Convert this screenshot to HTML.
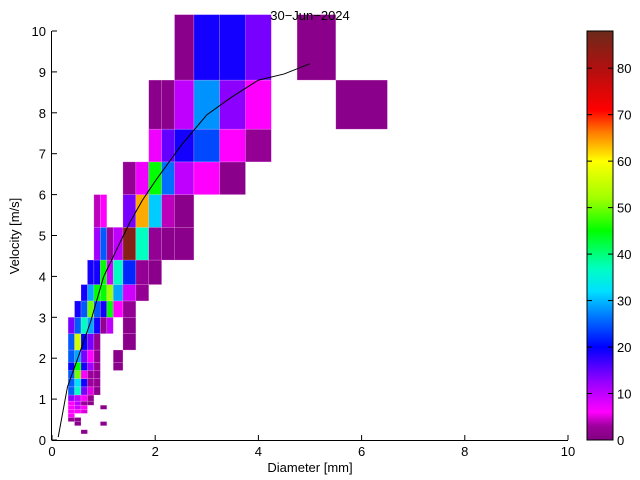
<!DOCTYPE html>
<html><head><meta charset="utf-8">
<style>
body{margin:0;background:#fff;}
svg{display:block;font-family:"Liberation Sans",sans-serif;}
</style></head>
<body>
<svg id="chart" width="640" height="480" viewBox="0 0 640 480">
  <rect width="640" height="480" fill="#fff"/>
  <g id="cells"></g>
  <polyline id="fitline" fill="none" stroke="#000" stroke-width="1"/>
  <g id="axes"></g>
  <text x="310" y="20" font-size="13" text-anchor="middle">30−Jun−2024</text>
  <text x="310" y="472" font-size="13" text-anchor="middle">Diameter [mm]</text>
  <text x="19" y="236" font-size="13" text-anchor="middle" transform="rotate(-90 19 236)">Velocity [m/s]</text>
  <defs><linearGradient id="cbgrad" x1="0" y1="1" x2="0" y2="0"></linearGradient></defs>
  <rect x="587" y="31" width="26" height="409" fill="url(#cbgrad)" stroke="#000" stroke-width="1"/>
  <g id="cbticks"></g>
</svg>
<script>
// bin edges (class centers, pcolor style)
const dEdges = [0.062,0.187,0.312,0.437,0.562,0.687,0.812,0.937,1.062,1.187,1.375,1.625,1.875,2.125,2.375,2.75,3.25,3.75,4.25,4.75,5.5,6.5];
const vEdges = [0.05,0.15,0.25,0.35,0.45,0.55,0.65,0.75,0.85,0.95,1.1,1.3,1.5,1.7,1.9,2.2,2.6,3.0,3.4,3.8,4.4,5.2,6.0,6.8,7.6,8.8,10.4];
// cells: diameter class, velocity class, count
const cellD = [4, 3,7, 2,3, 2, 2,3,4, 2,3,4,7, 2,3,4,5, 2,3,4,5, 2,3,4,5,6, 2,3,4,5,6, 2,3,4,5,6, 2,3,4,5,6,9, 2,3,4,5,6,9, 2,3,4,5,6,10, 2,3,4,5,6,7,8,10, 3,4,5,6,7,8,9,10, 4,5,6,7,8,9,10,11, 5,6,7,8,9,10,11,12, 6,7,8,9,10,11,12,13,14, 6,7,10,11,12,13,14, 10,11,12,13,14,15,16, 12,13,14,15,16,17, 12,13,14,15,16,17,20, 14,15,16,17,19];
const cellV = [1, 3,3, 4,4, 5, 6,6,6, 7,7,7,7, 8,8,8,8, 9,9,9,9, 10,10,10,10,10, 11,11,11,11,11, 12,12,12,12,12, 13,13,13,13,13,13, 14,14,14,14,14,14, 15,15,15,15,15,15, 16,16,16,16,16,16,16,16, 17,17,17,17,17,17,17,17, 18,18,18,18,18,18,18,18, 19,19,19,19,19,19,19,19, 20,20,20,20,20,20,20,20,20, 21,21,21,21,21,21,21, 22,22,22,22,22,22,22, 23,23,23,23,23,23, 24,24,24,24,24,24,24, 25,25,25,25,25];
const cellN = [1, 1,1, 2,1, 6, 6,6,5, 6,9,6,1, 6,10,2,1, 13,10,6,2, 25,37,14,5,1, 25,32,19,3,2, 25,50,6,3,2, 20,45,19,12,2,1, 25,29,14,6,2,1, 25,56,20,14,2,1, 14,25,37,29,19,2,10,1, 19,25,50,25,19,45,6,2, 19,29,45,45,52,29,9,2, 19,19,45,9,37,22,2,1, 12,25,3,10,85,37,2,1,1, 4,6,14,64,31,4,1, 2,7,45,26,10,6,1, 7,15,19,24,6,2, 1,1,10,28,13,6,1, 1,19,19,14,1];
// fit curve
const fitD = [0.12,0.3,0.5,0.75,1.0,1.25,1.5,1.75,2.0,2.5,3.0,3.5,4.0,4.5,5.0];
const fitV = [0.07,1.3,2.0,2.9,3.99,4.65,5.3,5.86,6.33,7.2,7.95,8.4,8.8,8.95,9.2];
const xTicks = [0,2,4,6,8,10];
const yTicks = [0,1,2,3,4,5,6,7,8,9,10];
const cbTicks = [0,10,20,30,40,50,60,70,80];

const X0=52, X1=568, Y0=440, Y1=31, CMAX=88;
const xs = d => X0 + (X1-X0)*d/10;
const ys = v => Y0 - (Y0-Y1)*v/10;
const stops = [[0,[130,0,130]],[3,[155,0,155]],[6,[255,0,255]],[12,[160,0,255]],[20,[0,0,255]],[27,[0,128,255]],[32,[0,224,255]],[37,[0,255,192]],[45,[0,255,0]],[52,[160,255,0]],[60,[255,255,0]],[66,[255,128,0]],[71,[255,0,0]],[80,[176,16,16]],[88,[107,42,26]]];
function cmap(n){
  for(let i=0;i<stops.length-1;i++){
    const a=stops[i],b=stops[i+1];
    if(n<=b[0]){const t=Math.max(0,(n-a[0])/(b[0]-a[0]));
      return 'rgb('+a[1].map((c,k)=>Math.round(c+(b[1][k]-c)*t)).join(',')+')';}
  }
  return 'rgb(107,42,26)';
}
const NS='http://www.w3.org/2000/svg';
const cells=document.getElementById('cells');
for(let i=0;i<cellN.length;i++){
  const r=document.createElementNS(NS,'rect');
  const x0=xs(dEdges[cellD[i]]), x1=xs(dEdges[cellD[i]+1]);
  const y0=ys(vEdges[cellV[i]+1]), y1=ys(vEdges[cellV[i]]);
  r.setAttribute('x',x0);r.setAttribute('y',y0);
  r.setAttribute('width',x1-x0);r.setAttribute('height',y1-y0);
  r.setAttribute('fill',cmap(cellN[i]));
  r.setAttribute('stroke','rgba(255,200,255,0.35)');r.setAttribute('stroke-width','0.6');
  
  
  cells.appendChild(r);
}
document.getElementById('fitline').setAttribute('points',fitD.map((d,i)=>xs(d)+','+ys(fitV[i])).join(' '));
const axes=document.getElementById('axes');
function line(x1,y1,x2,y2,name,parent){
  const l=document.createElementNS(NS,'line');
  l.setAttribute('x1',x1);l.setAttribute('y1',y1);l.setAttribute('x2',x2);l.setAttribute('y2',y2);
  l.setAttribute('stroke','#000');l.setAttribute('stroke-width','1');
  
  
  (parent||axes).appendChild(l);
}
function text(x,y,s,anchor,name,parent){
  const t=document.createElementNS(NS,'text');
  t.setAttribute('x',x);t.setAttribute('y',y);t.setAttribute('font-size','13');
  t.setAttribute('text-anchor',anchor);t.textContent=s;
  
  
  parent.appendChild(t);
}
line(X0-0.5,Y1,X0-0.5,Y0+0.5,'y-axis-line');
line(X0,Y0+0.5,X1,Y0+0.5,'x-axis-line');
xTicks.forEach(v=>{const x=xs(v);line(x,Y0,x,Y0-5,'x-tick');text(x,Y0+16,String(v),'middle','x-tick-label',axes);});
yTicks.forEach(v=>{const y=ys(v);line(X0,y,X0+5,y,'y-tick');text(X0-6,y+5,String(v),'end','y-tick-label',axes);});
const grad=document.getElementById('cbgrad');
stops.forEach(s=>{const st=document.createElementNS(NS,'stop');st.setAttribute('offset',s[0]/CMAX);st.setAttribute('stop-color','rgb('+s[1].join(',')+')');grad.appendChild(st);});
const cbt=document.getElementById('cbticks');
cbTicks.forEach(v=>{const y=Y0-(Y0-Y1)*v/CMAX;
  line(608,y,613,y,'colorbar-tick',cbt);
  line(587,y,592,y,'colorbar-tick',cbt);
  text(617,y+5,String(v),'start','colorbar-tick-label',cbt);});
</script>
</body></html>
